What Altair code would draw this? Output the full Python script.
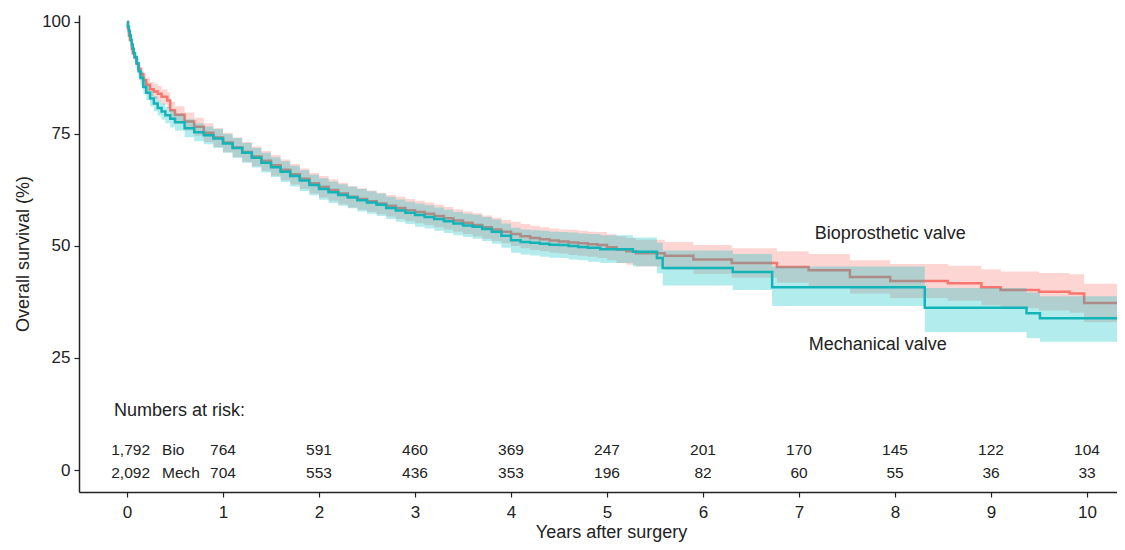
import altair as alt
import pandas as pd

# ---- Kaplan-Meier estimates (years, survival %, 95% CI) ----
bio_t = [0.00, 0.01, 0.02, 0.03, 0.05, 0.06, 0.08, 0.10, 0.12, 0.14, 0.17, 0.20, 0.24, 0.28, 0.32,
         0.36, 0.42, 0.45, 0.50, 0.60, 0.70, 0.80, 0.90, 1.00, 1.10, 1.20, 1.30, 1.40, 1.50, 1.60,
         1.70, 1.80, 1.90, 2.00, 2.10, 2.20, 2.30, 2.40, 2.50, 2.60, 2.70, 2.80, 2.90, 3.00, 3.10,
         3.20, 3.30, 3.40, 3.50, 3.60, 3.70, 3.80, 3.90, 4.00, 4.10, 4.20, 4.30, 4.40, 4.50, 4.60,
         4.70, 4.80, 4.90, 5.00, 5.10, 5.20, 5.30, 5.60, 5.90, 6.30, 6.77, 7.10, 7.53, 7.95, 8.55,
         8.90, 9.10, 9.50, 9.82, 9.97, 10.40]
bio_s = [100, 98.5, 97.0, 96.0, 94.0, 93.0, 92.0, 90.7, 89.5, 88.4, 87.0, 86.0, 85.0, 84.5, 84.0,
         83.3, 82.5, 80.3, 79.3, 77.8, 76.6, 75.3, 74.2, 73.1, 72.0, 71.0, 70.0, 69.0, 68.0, 67.0,
         66.0, 65.0, 64.0, 63.2, 62.5, 61.7, 61.0, 60.5, 60.0, 59.5, 59.0, 58.5, 58.0, 57.6, 57.2,
         56.7, 56.2, 55.7, 55.2, 54.7, 54.2, 53.7, 53.2, 52.7, 52.2, 51.8, 51.5, 51.2, 51.0, 50.8,
         50.6, 50.4, 50.2, 49.7, 49.2, 48.8, 48.4, 47.8, 47.0, 46.2, 45.3, 44.6, 43.1, 42.2, 41.7,
         40.8, 40.2, 39.8, 39.4, 37.3, 37.3]
bio_lo = [100, 97.9, 96.2, 95.1, 93.0, 91.9, 90.8, 89.4, 88.1, 86.9, 85.5, 84.4, 83.4, 82.8, 82.3,
          81.6, 80.7, 78.4, 77.4, 75.8, 74.6, 73.2, 72.1, 70.9, 69.8, 68.8, 67.8, 66.8, 65.7, 64.7,
          63.7, 62.7, 61.7, 60.8, 60.1, 59.3, 58.6, 58.1, 57.6, 57.1, 56.6, 56.0, 55.5, 55.1, 54.7,
          54.2, 53.7, 53.2, 52.7, 52.1, 51.6, 51.1, 50.6, 50.0, 49.5, 49.1, 48.8, 48.5, 48.3, 48.0,
          47.8, 47.6, 47.3, 46.8, 46.2, 45.8, 45.4, 44.7, 43.8, 42.9, 41.8, 41.0, 39.4, 38.4, 37.8,
          36.8, 36.1, 35.6, 35.1, 33.0, 33.0]
bio_hi = [100, 99.1, 97.8, 96.9, 95.0, 94.1, 93.2, 92.0, 90.9, 89.9, 88.5, 87.6, 86.6, 86.2, 85.7,
          85.0, 84.3, 82.2, 81.2, 79.8, 78.6, 77.4, 76.3, 75.3, 74.2, 73.2, 72.2, 71.2, 70.3, 69.3,
          68.3, 67.3, 66.3, 65.6, 64.9, 64.1, 63.4, 62.9, 62.4, 61.9, 61.4, 61.0, 60.5, 60.1, 59.7,
          59.2, 58.7, 58.2, 57.7, 57.3, 56.8, 56.3, 55.8, 55.4, 54.9, 54.5, 54.2, 53.9, 53.7, 53.6,
          53.4, 53.2, 53.1, 52.6, 52.2, 51.8, 51.4, 50.9, 50.2, 49.5, 48.8, 48.2, 46.8, 46.0, 45.6,
          44.8, 44.3, 44.0, 43.7, 41.6, 41.6]

mech_t = [0.00, 0.01, 0.02, 0.03, 0.04, 0.05, 0.06, 0.07, 0.08, 0.10, 0.12, 0.14, 0.17, 0.20, 0.24,
          0.28, 0.32, 0.36, 0.40, 0.45, 0.50, 0.60, 0.70, 0.80, 0.90, 1.00, 1.10, 1.20, 1.30, 1.40,
          1.50, 1.60, 1.70, 1.80, 1.90, 2.00, 2.10, 2.20, 2.30, 2.40, 2.50, 2.60, 2.70, 2.80, 2.90,
          3.00, 3.10, 3.20, 3.30, 3.40, 3.50, 3.60, 3.70, 3.80, 3.90, 4.00, 4.10, 4.20, 4.30, 4.40,
          4.50, 4.60, 4.70, 4.80, 4.93, 5.27, 5.52, 5.58, 6.31, 6.72, 8.31, 9.37, 9.51, 10.40]
mech_s = [100, 99.0, 98.0, 97.0, 96.0, 95.0, 94.0, 93.0, 92.2, 90.8, 89.0, 87.5, 85.5, 84.2, 82.9,
          81.8, 80.8, 80.0, 79.2, 78.4, 77.6, 76.3, 75.4, 74.7, 74.0, 72.9, 71.9, 70.8, 69.7, 68.6,
          67.6, 66.6, 65.6, 64.6, 63.6, 62.7, 62.0, 61.4, 60.8, 60.2, 59.7, 59.2, 58.5, 57.9, 57.4,
          56.9, 56.5, 56.0, 55.5, 55.0, 54.6, 54.3, 53.8, 53.2, 52.3, 51.3, 50.9, 50.7, 50.5, 50.3,
          50.2, 50.0, 49.8, 49.6, 49.3, 48.7, 47.3, 45.1, 44.2, 40.8, 36.2, 35.0, 33.9, 33.9]
mech_lo = [100, 98.6, 97.4, 96.3, 95.1, 94.0, 93.0, 91.9, 91.0, 89.5, 87.6, 86.0, 83.9, 82.6, 81.2,
           80.1, 79.1, 78.2, 77.4, 76.5, 75.7, 74.3, 73.4, 72.7, 71.9, 70.8, 69.7, 68.6, 67.5, 66.4,
           65.4, 64.3, 63.3, 62.3, 61.3, 60.3, 59.6, 59.0, 58.4, 57.7, 57.2, 56.7, 56.0, 55.4, 54.9,
           54.3, 53.9, 53.4, 52.9, 52.4, 52.0, 51.6, 51.1, 50.5, 49.6, 48.5, 48.1, 47.9, 47.6, 47.4,
           47.3, 47.0, 46.8, 46.5, 46.2, 45.5, 43.9, 41.2, 40.2, 36.6, 30.8, 29.4, 28.6, 28.6]
mech_hi = [100, 99.4, 98.6, 97.7, 96.9, 96.0, 95.0, 94.1, 93.4, 92.1, 90.4, 89.0, 87.1, 85.8, 84.6,
           83.5, 82.5, 81.8, 81.0, 80.3, 79.5, 78.3, 77.4, 76.7, 76.1, 75.0, 74.1, 73.0, 71.9, 70.8,
           69.8, 68.9, 67.9, 66.9, 65.9, 65.1, 64.4, 63.8, 63.2, 62.7, 62.2, 61.7, 61.0, 60.4, 59.9,
           59.5, 59.1, 58.6, 58.1, 57.6, 57.2, 57.0, 56.5, 55.9, 55.0, 54.1, 53.7, 53.5, 53.4, 53.2,
           53.1, 53.0, 52.8, 52.7, 52.4, 51.9, 50.7, 49.0, 48.2, 45.4, 40.6, 39.6, 38.8, 38.8]

# ---- numbers at risk ----
risk_years = [1, 2, 3, 4, 5, 6, 7, 8, 9, 10]
bio_risk = ["764", "591", "460", "369", "247", "201", "170", "145", "122", "104"]
mech_risk = ["704", "553", "436", "353", "196", "82", "60", "55", "36", "33"]
start_counts = ["1,792", "2,092"]
group_names = ["Bio", "Mech"]
row_levels = [4.46, -0.67]      # y-positions (survival units) of the two risk rows

bio = pd.DataFrame({"t": bio_t, "s": bio_s, "lo": bio_lo, "hi": bio_hi})
mech = pd.DataFrame({"t": mech_t, "s": mech_s, "lo": mech_lo, "hi": mech_hi})

risk_df = pd.DataFrame({
    "t": risk_years + risk_years,
    "s": [row_levels[0]] * len(risk_years) + [row_levels[1]] * len(risk_years),
    "label": bio_risk + mech_risk,
})
start_df = pd.DataFrame({"t": [0.24, 0.24], "s": row_levels, "label": start_counts})
group_df = pd.DataFrame({"t": [0.365, 0.365], "s": row_levels, "label": group_names})
head_df = pd.DataFrame({"t": [-0.135], "s": [13.2], "label": ["Numbers at risk:"]})
ann_df = pd.DataFrame({"t": [7.95, 7.82], "s": [52.7, 27.9],
                       "label": ["Bioprosthetic valve", "Mechanical valve"]})

TXT = "#222222"
xscale = alt.Scale(domain=[-0.5, 10.3125], nice=False, zero=False)
yscale = alt.Scale(domain=[-4.91, 101.56], nice=False, zero=False)
xaxis = alt.Axis(values=list(range(11)), title="Years after surgery", grid=False,
                 labelPadding=7, tickSize=5, titleX=532, titleY=45,
                 titleBaseline="alphabetic")
yaxis = alt.Axis(values=[0, 25, 50, 75, 100], title="Overall survival (%)", grid=False,
                 labelPadding=4, tickSize=5, titleX=-47)

X = alt.X("t:Q", scale=xscale, axis=xaxis)
Y = alt.Y("s:Q", scale=yscale, axis=yaxis)

def band(df, color):
    return alt.Chart(df).mark_area(interpolate="step-after", color=color, opacity=0.3,
                                   clip=True).encode(
        x=X, y=alt.Y("lo:Q", scale=yscale, axis=yaxis), y2="hi:Q")

def line(df, color):
    return alt.Chart(df).mark_line(interpolate="step-after", color=color, strokeWidth=2.5,
                                   clip=True).encode(x=X, y=Y)

def text(df, align, size):
    return alt.Chart(df).mark_text(align=align, baseline="middle", fontSize=size,
                                   color=TXT).encode(x=X, y=Y, text="label:N")

chart = alt.layer(
    band(bio, "#F8766D"),
    line(bio, "#F8766D"),
    band(mech, "#00BFC4"),
    line(mech, "#13B4B7"),
    text(risk_df, "center", 15.5),
    text(start_df, "right", 15.5),
    text(group_df, "left", 15.5),
    text(head_df, "left", 18),
    text(ann_df, "center", 18),
).properties(
    width=1038, height=477,
    autosize=alt.AutoSizeParams(type="none"),
    padding={"left": 71, "top": 7, "right": 0, "bottom": 50},
).configure(font="Liberation Sans").configure_view(stroke=None).configure_axis(
    domainColor=TXT, domainWidth=1.5, tickColor=TXT, tickWidth=1.2,
    labelColor=TXT, labelFontSize=17, titleColor=TXT, titleFontSize=18,
    titleFontWeight="normal",
)

chart.save("out.html", embed_options={"renderer": "svg", "actions": False})
